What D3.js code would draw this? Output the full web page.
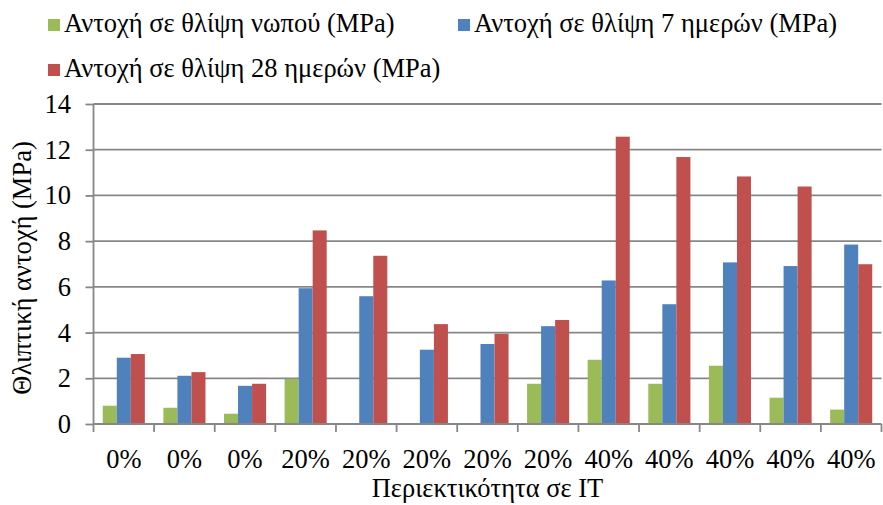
<!DOCTYPE html>
<html>
<head>
<meta charset="utf-8">
<script src="https://cdn.jsdelivr.net/npm/d3@7"></script>
</head>
<body style="margin:0">
<svg id="chart" width="883" height="505"></svg>
<script>
// Mix labels (IT content) for each specimen
const categories = ["0%", "0%", "0%", "20%", "20%", "20%", "20%", "20%", "40%", "40%", "40%", "40%", "40%"];

// Compressive strength per specimen (MPa)
const freshStrength = [0.80, 0.71, 0.45, 1.97, 0, 0, 0, 1.76, 2.81, 1.76, 2.55, 1.15, 0.63];
const strength7d    = [2.90, 2.11, 1.67, 5.94, 5.59, 3.25, 3.50, 4.28, 6.28, 5.24, 7.07, 6.91, 7.85];
const strength28d   = [3.06, 2.27, 1.76, 8.47, 7.36, 4.37, 3.95, 4.55, 12.57, 11.68, 10.83, 10.39, 6.99];

const seriesNames = [
  "Αντοχή σε θλίψη νωπού (MPa)",
  "Αντοχή σε θλίψη 7 ημερών (MPa)",
  "Αντοχή σε θλίψη 28 ημερών (MPa)"
];
const seriesColors = ["#9BBB59", "#4F81BD", "#C0504D"];
const yTicks = [0, 2, 4, 6, 8, 10, 12, 14];

const series = [freshStrength, strength7d, strength28d];

const FONT = '"Liberation Serif"';
const FS = 26.5;

const svg = d3.select("#chart");
const plot = { left: 93.5, right: 881.5, top: 104, bottom: 424 };

const x0 = d3.scaleBand()
  .domain(d3.range(categories.length))
  .range([plot.left, plot.right]);

const x1 = d3.scaleBand()
  .domain(d3.range(series.length))
  .range([0, x0.bandwidth()])
  .paddingOuter(0.66);

const y = d3.scaleLinear().domain([0, 14]).range([plot.bottom, plot.top]);

const gridColor = "#878787";

// Horizontal gridlines
svg.append("g")
  .selectAll("line")
  .data(yTicks.filter(d => d > 0))
  .join("line")
  .attr("x1", plot.left).attr("x2", plot.right)
  .attr("y1", d => y(d)).attr("y2", d => y(d))
  .attr("stroke", gridColor).attr("stroke-width", 1.8);

// Bars
svg.append("g")
  .selectAll("g")
  .data(categories.map((c, i) => i))
  .join("g")
  .attr("transform", i => `translate(${x0(i)},0)`)
  .selectAll("rect")
  .data(i => series.map((s, k) => ({ k, v: s[i] })))
  .join("rect")
  .attr("x", d => x1(d.k))
  .attr("width", x1.bandwidth())
  .attr("y", d => y(d.v))
  .attr("height", d => y(0) - y(d.v))
  .attr("fill", d => seriesColors[d.k]);

// Y axis line and ticks
const yAxis = svg.append("g")
  .attr("transform", `translate(${plot.left},0)`)
  .call(d3.axisLeft(y).tickValues(yTicks).tickSize(8).tickFormat(""));
yAxis.select(".domain").attr("stroke", gridColor).attr("stroke-width", 1.8)
  .attr("d", `M0,${plot.top}V${plot.bottom + 8}`);
yAxis.selectAll(".tick line").attr("stroke", gridColor).attr("stroke-width", 1.8);
yAxis.selectAll(".tick text").remove();

svg.append("g").selectAll("text").data(yTicks).join("text")
  .attr("x", 71).attr("y", d => y(d)).attr("dy", "0.34em")
  .attr("text-anchor", "end")
  .style("font-family", FONT).style("font-size", FS + "px")
  .text(d => d);

// X axis line and category ticks
svg.append("line")
  .attr("x1", plot.left).attr("x2", plot.right)
  .attr("y1", plot.bottom).attr("y2", plot.bottom)
  .attr("stroke", gridColor).attr("stroke-width", 1.8);
svg.append("g").selectAll("line")
  .data(d3.range(1, categories.length + 1))
  .join("line")
  .attr("x1", i => x0(i - 1) + x0.bandwidth()).attr("x2", i => x0(i - 1) + x0.bandwidth())
  .attr("y1", plot.bottom).attr("y2", plot.bottom + 8)
  .attr("stroke", gridColor).attr("stroke-width", 1.8);

svg.append("g").selectAll("text").data(categories).join("text")
  .attr("x", (d, i) => x0(i) + x0.bandwidth() / 2)
  .attr("y", plot.bottom + 44)
  .attr("text-anchor", "middle")
  .style("font-family", FONT).style("font-size", FS + "px")
  .text(d => d);

// Axis titles
svg.append("text")
  .attr("x", (plot.left + plot.right) / 2).attr("y", 497)
  .attr("text-anchor", "middle")
  .style("font-family", FONT).style("font-size", FS + "px")
  .text("Περιεκτικότητα σε ΙΤ");

svg.append("text")
  .attr("transform", `translate(31,268) rotate(-90)`)
  .attr("text-anchor", "middle")
  .style("font-family", FONT).style("font-size", FS + "px")
  .text("Θλιπτική αντοχή (MPa)");

// Legend
const legendPos = [[48, 32], [458, 32], [48, 77]];
svg.append("g").selectAll("rect").data(seriesNames).join("rect")
  .attr("x", (d, k) => legendPos[k][0]).attr("y", (d, k) => legendPos[k][1] - 13)
  .attr("width", 12).attr("height", 12)
  .attr("fill", (d, k) => seriesColors[k]);
svg.append("g").selectAll("text").data(seriesNames).join("text")
  .attr("x", (d, k) => legendPos[k][0] + 16).attr("y", (d, k) => legendPos[k][1])
  .style("font-family", FONT).style("font-size", FS + "px")
  .text(d => d);
</script>
</body>
</html>
